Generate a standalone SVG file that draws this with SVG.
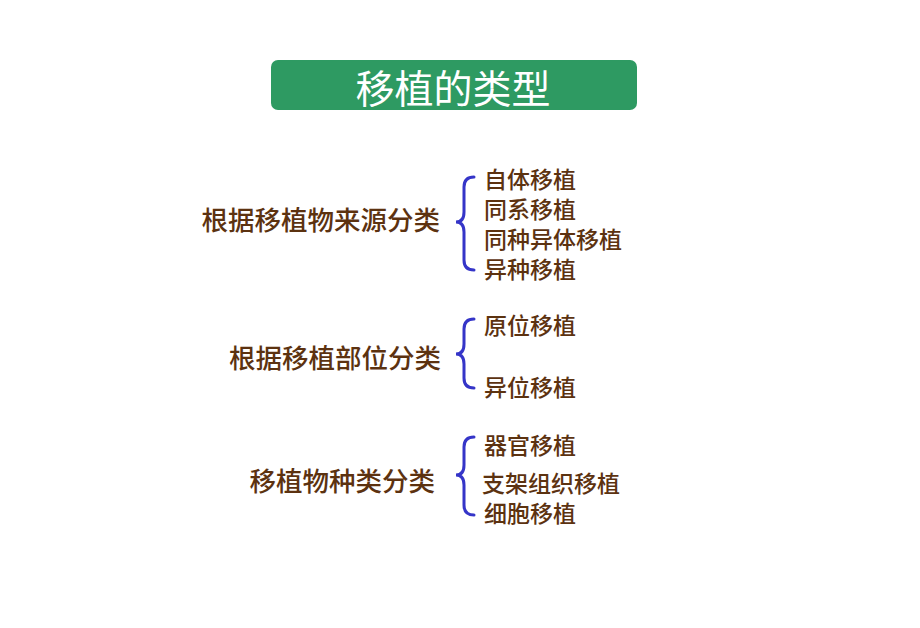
<svg xmlns="http://www.w3.org/2000/svg" width="920" height="628" viewBox="0 0 920 628">
<style>
.l{font-family:"Liberation Sans","Noto Sans CJK SC",sans-serif;font-size:26.5px;fill:#5c3210;text-anchor:end;font-weight:500}
.r{font-family:"Liberation Sans","Noto Sans CJK SC",sans-serif;font-size:23px;fill:#5c3210;font-weight:500}
.b{fill:none;stroke:#3535c8;stroke-width:3;stroke-linecap:round}
</style>
<rect width="920" height="628" fill="#fff"/>
<g id="title"><rect x="271" y="60" width="366" height="50" rx="7" fill="#2e9a62"/>
<text x="453" y="103" font-family="Liberation Sans,'Noto Sans CJK SC',sans-serif" font-size="39" fill="#fff" text-anchor="middle">移植的类型</text></g>
<g id="connectors">
<path class="b" d="M474,177 Q464,177 464,187 L464,212 Q464,222 456,222 Q464,222 464,232 L464,260 Q464,270 474,270"/>
<path class="b" d="M474,319 Q464,319 464,329 L464,344 Q464,354 456,354 Q464,354 464,364 L464,378 Q464,388 474,388"/>
<path class="b" d="M474,437 Q464,437 464,447 L464,465 Q464,475 456,475 Q464,475 464,485 L464,505 Q464,515 474,515"/>
</g>
<g id="g1"><text class="l" x="440" y="230">根据移植物来源分类</text>
<text class="r" x="484" y="188">自体移植</text><text class="r" x="484" y="218">同系移植</text>
<text class="r" x="484" y="248">同种异体移植</text><text class="r" x="484" y="278">异种移植</text></g>
<g id="g2"><text class="l" x="441" y="368">根据移植部位分类</text>
<text class="r" x="484" y="334">原位移植</text><text class="r" x="484" y="396">异位移植</text></g>
<g id="g3"><text class="l" x="435" y="491">移植物种类分类</text>
<text class="r" x="484" y="454">器官移植</text><text class="r" x="482" y="492">支架组织移植</text><text class="r" x="484" y="522">细胞移植</text></g>
</svg>
